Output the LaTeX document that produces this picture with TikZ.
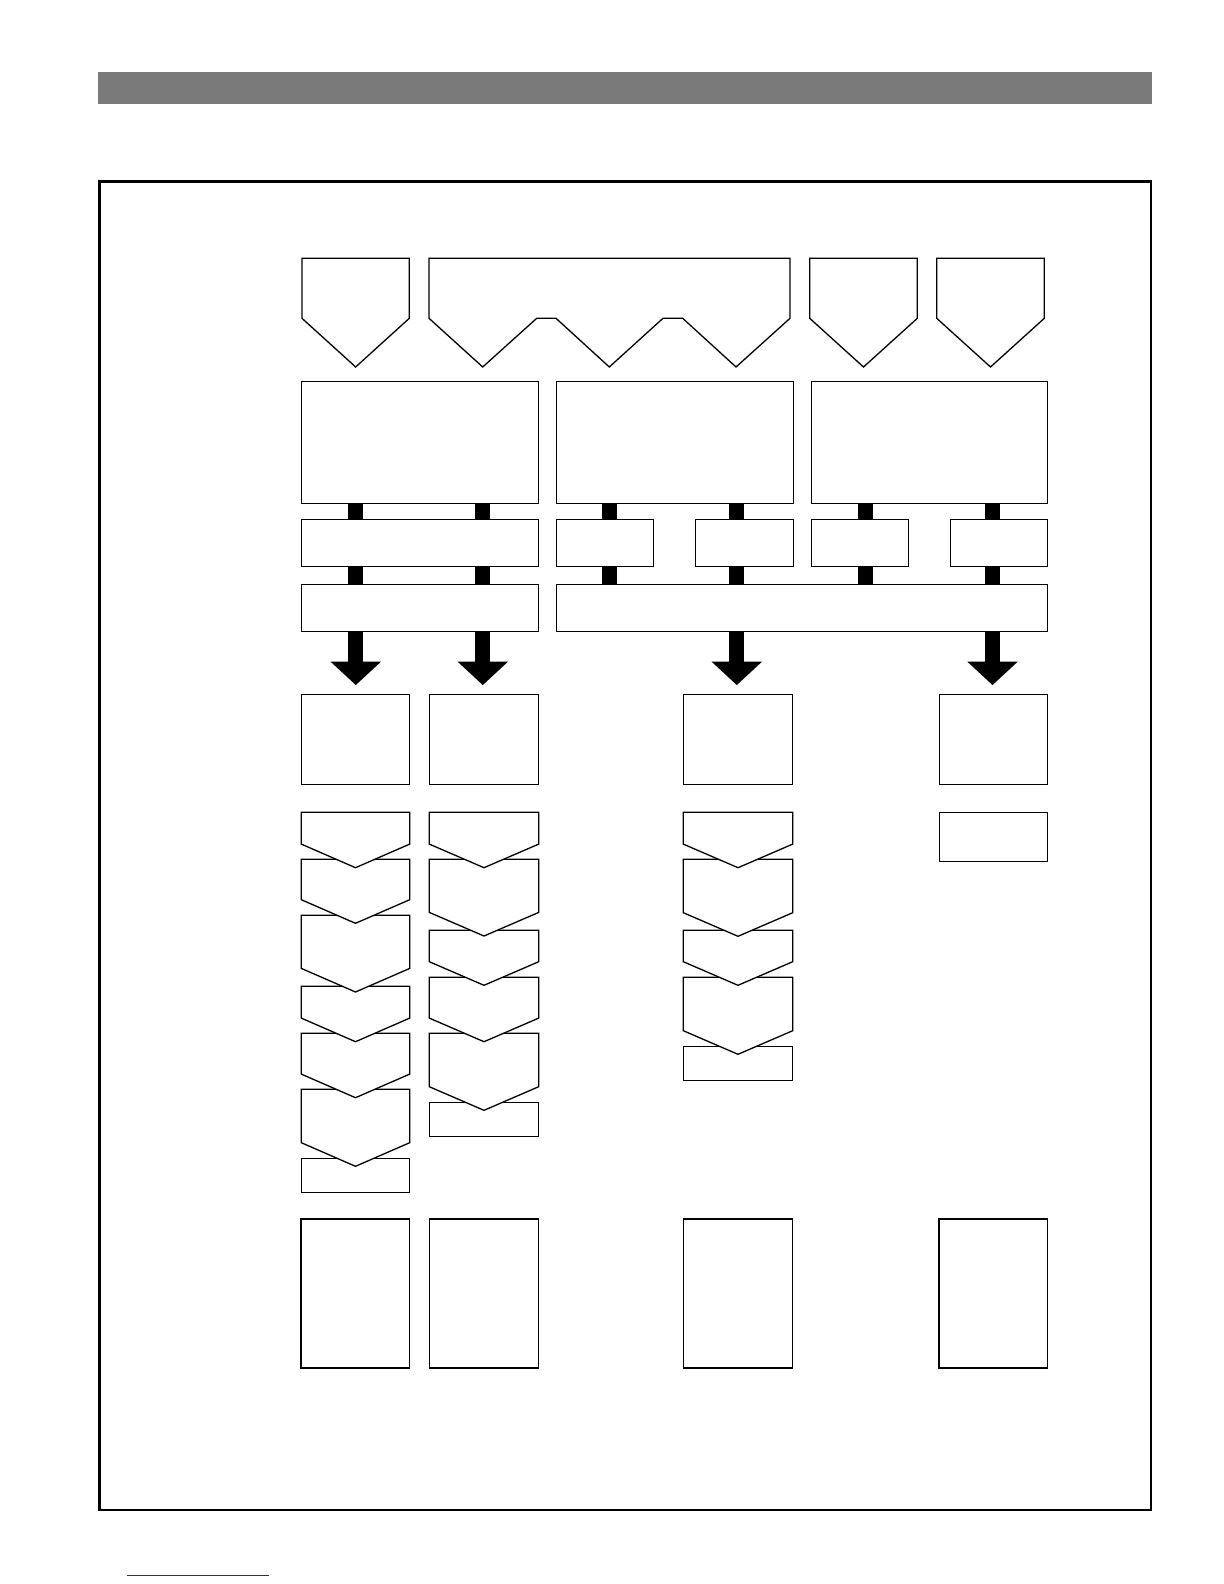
\documentclass[tikz,border=0pt]{standalone}
\usetikzlibrary{fit,arrows.meta}
\definecolor{barGray}{RGB}{122,122,122}
\definecolor{linkBlue}{RGB}{30,40,170}
\tikzset{
  boxnode/.style={draw=black, line width=0.65pt, fill=white, inner sep=0pt, outer sep=0pt},
  shapeline/.style={draw=black, line width=0.65pt, fill=white, line join=miter},
  linkbar/.style={line width=7.5pt, draw=black},
  fatarrow/.style={line width=7.5pt, draw=black, -{Triangle[width=24.5pt,length=11.7pt]}, shorten >=4.6pt},
  framebox/.style={draw=black, line width=1.25pt},
}
% name, x1, y1, x2, y2 (pixel coordinates, y downward)
\newcommand\pbox[5]{\node[boxnode, fit={(#2,#3) (#4,#5)}] (#1) {};}
% chevron: xl, xr, top, tip
\newcommand\chevr[4]{\draw[shapeline] (#1,#3) -- (#2,#3) -- (#2,#4-23.6) -- ({(#1+#2)/2},#4) -- (#1,#4-23.6) -- cycle;}
\begin{document}
\begin{tikzpicture}[x=0.5pt,y=-0.5pt]
\useasboundingbox (0,0) rectangle (1224,1584);
% header bar and frame
\fill[barGray] (98,72) rectangle (1152,103.7);
\draw[framebox] (99.25,181.25) rectangle (1150.75,1509.75);
\draw[linkBlue, line width=0.75pt] (127,1575.3) -- (269,1575.3);
% column centres
\coordinate (c1) at (355.8,0);
\coordinate (c2) at (482.8,0);
\coordinate (c3) at (609.7,0);
\coordinate (c4) at (736.8,0);
\coordinate (c5) at (865,0);
\coordinate (c6) at (992.5,0);
% top pentagons
\draw[shapeline] (302,258.3) -- (409.3,258.3) -- (409.3,318.3) -- (355.65,367) -- (302,318.3) -- cycle;
\draw[shapeline] (429,258.3) -- (790,258.3) -- (790,318.3) -- (736,367) -- (682.7,318.3) -- (663,318.3) -- (609.3,367) -- (556,318.3) -- (536.7,318.3) -- (482.7,367) -- (429,318.3) -- cycle;
\draw[shapeline] (809.7,258.3) -- (917.3,258.3) -- (917.3,318.3) -- (863.5,367) -- (809.7,318.3) -- cycle;
\draw[shapeline] (936.7,258.3) -- (1044.3,258.3) -- (1044.3,318.3) -- (990.5,367) -- (936.7,318.3) -- cycle;
% big boxes
\pbox{A1}{301.7}{381.7}{538.3}{503.3}
\pbox{A2}{556.3}{381.7}{793.3}{503.3}
\pbox{A3}{811.3}{381.7}{1047.7}{503.3}
% row 2
\pbox{R2a}{301.7}{519.3}{538.3}{566.3}
\pbox{R2b}{556.3}{519.3}{653.3}{566.3}
\pbox{R2c}{695.3}{519.3}{793.3}{566.3}
\pbox{R2d}{811.3}{519.3}{908.7}{566.3}
\pbox{R2e}{950.3}{519.3}{1047.7}{566.3}
% row 3
\pbox{R3a}{301.7}{584.3}{538.3}{631.3}
\pbox{R3b}{556.3}{584.3}{1047.7}{631.3}
% connector bars
\draw[linkbar] (A1.south -| c1) -- (R2a.north -| c1);
\draw[linkbar] (A1.south -| c2) -- (R2a.north -| c2);
\draw[linkbar] (A2.south -| c3) -- (R2b.north -| c3);
\draw[linkbar] (A2.south -| c4) -- (R2c.north -| c4);
\draw[linkbar] (A3.south -| c5) -- (R2d.north -| c5);
\draw[linkbar] (A3.south -| c6) -- (R2e.north -| c6);
\draw[linkbar] (R2a.south -| c1) -- (R3a.north -| c1);
\draw[linkbar] (R2a.south -| c2) -- (R3a.north -| c2);
\draw[linkbar] (R2b.south -| c3) -- (R3b.north -| c3);
\draw[linkbar] (R2c.south -| c4) -- (R3b.north -| c4);
\draw[linkbar] (R2d.south -| c5) -- (R3b.north -| c5);
\draw[linkbar] (R2e.south -| c6) -- (R3b.north -| c6);
% row 4 boxes
\pbox{B1}{301.3}{694.3}{409.7}{784.3}
\pbox{B2}{429.3}{694.3}{538.7}{784.3}
\pbox{B4}{683.3}{694.3}{792.7}{784.3}
\pbox{B6}{939.3}{694.3}{1047.7}{784.3}
% big arrows
\draw[fatarrow] (R3a.south -| c1) -- (B1.north -| c1);
\draw[fatarrow] (R3a.south -| c2) -- (B2.north -| c2);
\draw[fatarrow] (R3b.south -| c4) -- (B4.north -| c4);
\draw[fatarrow] (R3b.south -| c6) -- (B6.north -| c6);
% column 1 chevrons (bottom first)
\pbox{E1}{301.3}{1158.3}{409.7}{1192.3}
\chevr{301.3}{409.7}{1089.3}{1166.3}
\chevr{301.3}{409.7}{1033.3}{1097.7}
\chevr{301.3}{409.7}{986.3}{1041.7}
\chevr{301.3}{409.7}{915.3}{992}
\chevr{301.3}{409.7}{859.3}{923.3}
\chevr{301.3}{409.7}{812.3}{867.7}
% column 2 chevrons
\pbox{E2}{429.3}{1102.3}{538.7}{1136.3}
\chevr{429.3}{538.7}{1033.3}{1110.3}
\chevr{429.3}{538.7}{977.3}{1041.7}
\chevr{429.3}{538.7}{930.3}{985.3}
\chevr{429.3}{538.7}{859.3}{936}
\chevr{429.3}{538.7}{812.3}{867.7}
% column 4 chevrons
\pbox{E4}{683.3}{1046.3}{792.7}{1080.3}
\chevr{683.3}{792.7}{977.3}{1054.3}
\chevr{683.3}{792.7}{930.3}{985.3}
\chevr{683.3}{792.7}{859.3}{936.3}
\chevr{683.3}{792.7}{812.3}{867.7}
% column 6
\pbox{E6}{939.3}{812.3}{1047.7}{861.7}
% bottom boxes
\pbox{F1}{301}{1219}{409.7}{1368}
\pbox{F2}{429.6}{1219}{538.4}{1368}
\pbox{F4}{683.8}{1219}{792.6}{1368}
\pbox{F6}{939}{1219}{1047.8}{1368}
\end{tikzpicture}
\end{document}
